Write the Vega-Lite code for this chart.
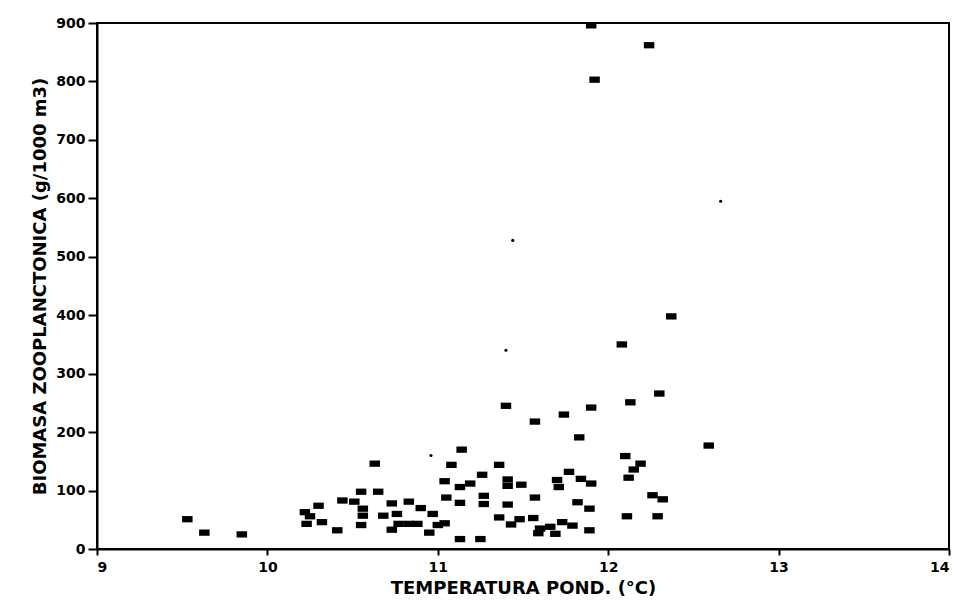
{
  "$schema": "https://vega.github.io/schema/vega-lite/v6.json",
  "autosize": "none",
  "width": 852,
  "height": 526,
  "padding": {"left": 97, "top": 23, "right": 23, "bottom": 58},
  "background": "white",
  "config": {
    "view": {"stroke": "black", "strokeWidth": 2},
    "axis": {
      "domainColor": "black", "domainWidth": 2, "tickColor": "black", "tickWidth": 2,
      "labelColor": "black", "titleColor": "black", "labelFont": "DejaVu Sans",
      "titleFont": "DejaVu Sans", "labelFontWeight": "bold", "titleFontWeight": "bold",
      "grid": false
    }
  },
  "data": {"values": [
    {"t": 9.53, "b": 51, "k": "sq"}, {"t": 9.63, "b": 28, "k": "sq"}, {"t": 9.85, "b": 25, "k": "sq"},
    {"t": 10.22, "b": 63, "k": "sq"}, {"t": 10.30, "b": 74, "k": "sq"}, {"t": 10.25, "b": 56, "k": "sq"},
    {"t": 10.23, "b": 43, "k": "sq"}, {"t": 10.32, "b": 46, "k": "sq"}, {"t": 10.41, "b": 32, "k": "sq"},
    {"t": 10.55, "b": 41, "k": "sq"}, {"t": 10.44, "b": 83, "k": "sq"}, {"t": 10.51, "b": 81, "k": "sq"},
    {"t": 10.55, "b": 98, "k": "sq"}, {"t": 10.56, "b": 69, "k": "sq"}, {"t": 10.56, "b": 57, "k": "sq"},
    {"t": 10.65, "b": 98, "k": "sq"}, {"t": 10.63, "b": 146, "k": "sq"}, {"t": 10.73, "b": 78, "k": "sq"},
    {"t": 10.68, "b": 57, "k": "sq"}, {"t": 10.76, "b": 60, "k": "sq"}, {"t": 10.73, "b": 33, "k": "sq"},
    {"t": 10.77, "b": 43, "k": "sq"}, {"t": 10.83, "b": 81, "k": "sq"}, {"t": 10.83, "b": 43, "k": "sq"},
    {"t": 10.88, "b": 43, "k": "sq"}, {"t": 10.90, "b": 70, "k": "sq"}, {"t": 10.97, "b": 60, "k": "sq"},
    {"t": 10.95, "b": 28, "k": "sq"}, {"t": 11.00, "b": 41, "k": "sq"}, {"t": 11.04, "b": 44, "k": "sq"},
    {"t": 11.14, "b": 170, "k": "sq"}, {"t": 11.08, "b": 144, "k": "sq"}, {"t": 11.04, "b": 116, "k": "sq"},
    {"t": 11.13, "b": 106, "k": "sq"}, {"t": 11.19, "b": 112, "k": "sq"}, {"t": 11.05, "b": 88, "k": "sq"},
    {"t": 11.13, "b": 79, "k": "sq"}, {"t": 11.13, "b": 17, "k": "sq"}, {"t": 11.25, "b": 17, "k": "sq"},
    {"t": 11.26, "b": 127, "k": "sq"}, {"t": 11.27, "b": 91, "k": "sq"}, {"t": 11.27, "b": 77, "k": "sq"},
    {"t": 11.40, "b": 245, "k": "sq"}, {"t": 11.57, "b": 218, "k": "sq"}, {"t": 11.74, "b": 230, "k": "sq"},
    {"t": 11.90, "b": 242, "k": "sq"}, {"t": 12.13, "b": 251, "k": "sq"}, {"t": 11.83, "b": 191, "k": "sq"},
    {"t": 12.10, "b": 159, "k": "sq"}, {"t": 12.15, "b": 136, "k": "sq"}, {"t": 12.19, "b": 146, "k": "sq"},
    {"t": 12.12, "b": 122, "k": "sq"}, {"t": 12.11, "b": 56, "k": "sq"}, {"t": 11.36, "b": 144, "k": "sq"},
    {"t": 11.41, "b": 119, "k": "sq"}, {"t": 11.41, "b": 108, "k": "sq"}, {"t": 11.49, "b": 110, "k": "sq"},
    {"t": 11.57, "b": 88, "k": "sq"}, {"t": 11.41, "b": 76, "k": "sq"}, {"t": 11.36, "b": 54, "k": "sq"},
    {"t": 11.43, "b": 42, "k": "sq"}, {"t": 11.48, "b": 51, "k": "sq"}, {"t": 11.56, "b": 53, "k": "sq"},
    {"t": 11.59, "b": 27, "k": "sq"}, {"t": 11.60, "b": 35, "k": "sq"}, {"t": 11.66, "b": 38, "k": "sq"},
    {"t": 11.69, "b": 26, "k": "sq"}, {"t": 11.73, "b": 46, "k": "sq"}, {"t": 11.79, "b": 40, "k": "sq"},
    {"t": 11.70, "b": 118, "k": "sq"}, {"t": 11.71, "b": 106, "k": "sq"}, {"t": 11.77, "b": 132, "k": "sq"},
    {"t": 11.84, "b": 120, "k": "sq"}, {"t": 11.90, "b": 112, "k": "sq"}, {"t": 11.82, "b": 80, "k": "sq"},
    {"t": 11.89, "b": 69, "k": "sq"}, {"t": 11.89, "b": 32, "k": "sq"}, {"t": 12.37, "b": 398, "k": "sq"},
    {"t": 12.08, "b": 350, "k": "sq"}, {"t": 12.30, "b": 266, "k": "sq"}, {"t": 12.59, "b": 177, "k": "sq"},
    {"t": 12.26, "b": 92, "k": "sq"}, {"t": 12.32, "b": 85, "k": "sq"}, {"t": 12.29, "b": 56, "k": "sq"},
    {"t": 11.90, "b": 896, "k": "sq"}, {"t": 12.24, "b": 862, "k": "sq"}, {"t": 11.92, "b": 803, "k": "sq"},
    {"t": 10.96, "b": 160, "k": "dot"}, {"t": 11.44, "b": 528, "k": "dot"}, {"t": 11.40, "b": 340, "k": "dot"},
    {"t": 12.66, "b": 595, "k": "dot"}
  ]},
  "mark": {"type": "point", "filled": true, "opacity": 1, "color": "black"},
  "encoding": {
    "x": {
      "field": "t", "type": "quantitative",
      "scale": {"domain": [9, 14], "nice": false, "zero": false},
      "axis": {"values": [9, 10, 11, 12, 13, 14], "title": "TEMPERATURA POND. (°C)", "format": "d",
        "labelFontSize": 14, "titleFontSize": 18, "tickSize": 6, "labelPadding": 5, "titlePadding": 5}
    },
    "y": {
      "field": "b", "type": "quantitative",
      "scale": {"domain": [0, 900], "nice": false},
      "axis": {"values": [0, 100, 200, 300, 400, 500, 600, 700, 800, 900], "title": "BIOMASA ZOOPLANCTONICA (g/1000 m3)",
        "labelFontSize": 14, "titleFontSize": 18, "tickSize": 9, "labelPadding": 3, "titlePadding": 6}
    },
    "shape": {
      "field": "k", "type": "nominal", "legend": null,
      "scale": {"domain": ["sq", "dot"], "range": ["M-1,-0.6H1V0.6H-1Z", "circle"]}
    },
    "size": {
      "field": "k", "type": "nominal", "legend": null,
      "scale": {"domain": ["sq", "dot"], "range": [110, 10]}
    }
  }
}
